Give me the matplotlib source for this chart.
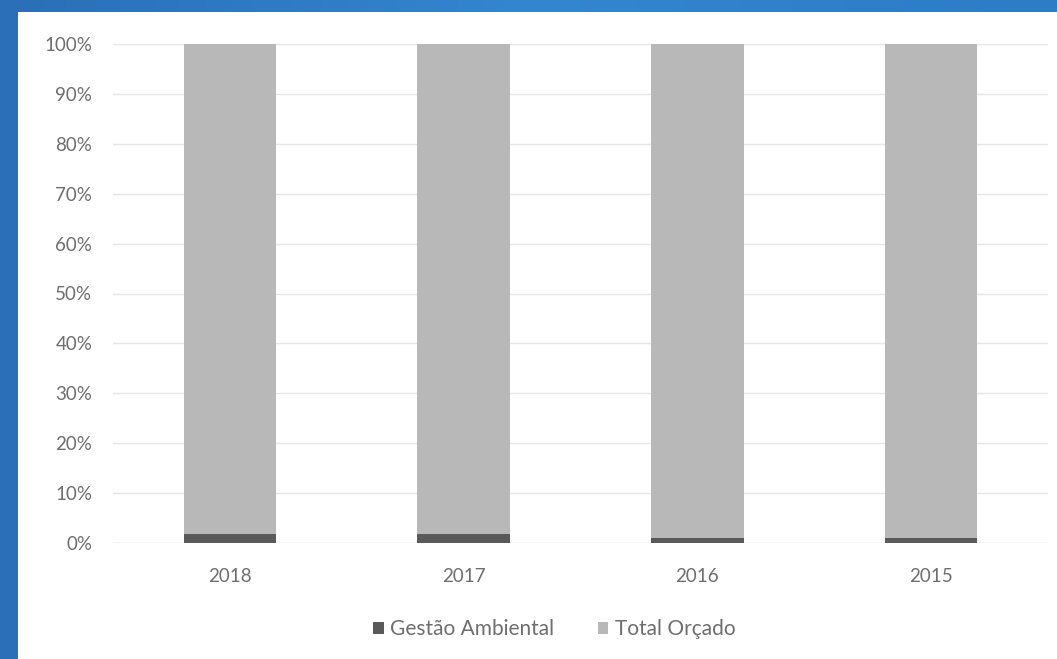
import numpy as np
import matplotlib.pyplot as plt
from matplotlib.patches import Rectangle

# data
anos = ["2018", "2017", "2016", "2015"]
gestao_ambiental = [1.8, 1.8, 1.1, 1.1]
total_orcado = [100 - g for g in gestao_ambiental]

cor_gestao = "#595959"
cor_total = "#b8b8b8"
cor_texto = "#6e6e6e"

plt.rcParams['font.family'] = ['Lato', 'DejaVu Sans']

fig = plt.figure(figsize=(10.57, 6.59), dpi=100)
fig.patch.set_facecolor("#2c79c3")

# slightly varying blue backdrop
bg = fig.add_axes([0, 0, 1, 1], zorder=-2)
grad = np.linspace(0, 1, 256).reshape(1, -1)
bg.imshow(grad, aspect="auto", cmap=plt.matplotlib.colors.LinearSegmentedColormap.from_list(
    "azul", ["#2a6fb8", "#3386d0", "#2c7cc6"]), extent=[0, 1, 0, 1])
bg.set_axis_off()

# white chart panel
fig.patches.append(Rectangle((18 / 1057, 0), 1 - 18 / 1057, 1 - 12 / 659,
                             transform=fig.transFigure, facecolor="white",
                             edgecolor="none", zorder=-1))

ax = fig.add_axes([113 / 1057, 1 - 543 / 659, (1048 - 113) / 1057, (543 - 44) / 659])
ax.set_facecolor("none")

x = np.arange(len(anos))
ax.bar(x, gestao_ambiental, width=0.395, color=cor_gestao, label="Gestão Ambiental", zorder=3)
ax.bar(x, total_orcado, width=0.395, bottom=gestao_ambiental, color=cor_total,
       label="Total Orçado", zorder=3)

ax.set_xlim(-0.5, len(anos) - 0.5)
ax.set_ylim(0, 100)
ax.set_yticks(np.arange(0, 101, 10))
ax.set_yticklabels([f"{v}%" for v in range(0, 101, 10)])
ax.set_xticks(x)
ax.set_xticklabels(anos)
ax.tick_params(length=0, colors=cor_texto, labelsize=13.5)
ax.tick_params(axis="y", pad=15)
ax.tick_params(axis="x", pad=18)
ax.grid(axis="y", color="#e6e6e6", linewidth=1, zorder=0)
for s in ax.spines.values():
    s.set_visible(False)
ax.axhline(0, color="#d9d9d9", linewidth=1, zorder=2)

leg = ax.legend(loc="center", bbox_to_anchor=(0.472, -0.173), ncol=2, frameon=False,
                fontsize=15, handlelength=0.5, handleheight=0.5, handletextpad=0.3,
                columnspacing=2.1)
for t in leg.get_texts():
    t.set_color(cor_texto)

fig.savefig("out.png", dpi=100, facecolor=fig.get_facecolor())
